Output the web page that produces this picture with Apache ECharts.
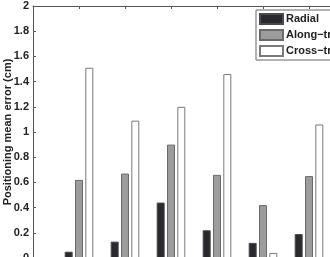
<!DOCTYPE html>
<html>
<head>
<meta charset="utf-8">
<script src="https://cdn.jsdelivr.net/npm/echarts@6/dist/echarts.min.js"></script>
<style>
html,body{margin:0;padding:0;background:#fff;}
#c{width:330px;height:257px;}
</style>
</head>
<body>
<div id="c"></div>
<script>
const categories = ['0', '1', '2', '3', '4', '5', '6', '7'];
const seriesNames = ['Radial', 'Along\u2212track', 'Cross\u2212track'];
const radial = [null, 0.05, 0.13, 0.44, 0.22, 0.12, 0.19, null];
const alongTrack = [null, 0.62, 0.67, 0.90, 0.66, 0.42, 0.65, null];
const crossTrack = [null, 1.51, 1.09, 1.20, 1.46, 0.04, 1.06, null];
const yTicks = [0, 0.2, 0.4, 0.6, 0.8, 1, 1.2, 1.4, 1.6, 1.8, 2];

const font = 'Liberation Sans, Arial, Helvetica, sans-serif';
const chart = echarts.init(document.getElementById('c'), null, {renderer: 'canvas'});
const styles = [
  {color: '#2a2a2e', borderColor: '#4a4a4a'},
  {color: '#9c9c9c', borderColor: '#6a6a6a'},
  {color: '#ffffff', borderColor: '#7a7a7a'}
];
const dataSets = [radial, alongTrack, crossTrack];

chart.setOption({
  animation: false,
  backgroundColor: '#fff',
  textStyle: {fontFamily: font},
  grid: {left: 33, top: 6, width: 322, height: 252, containLabel: false, outerBoundsMode: 'none'},
  legend: {
    orient: 'vertical', left: 256, top: 10,
    data: seriesNames,
    backgroundColor: '#fff', borderColor: '#666', borderWidth: 1,
    padding: [3, 30, 3, 3],
    itemWidth: 23, itemHeight: 10, itemGap: 4,
    icon: 'rect',
    textStyle: {fontFamily: font, fontSize: 11, fontWeight: 'bold', color: '#222', padding: [0, 0, 0, -2]}
  },
  xAxis: [
    {type: 'category', data: categories, position: 'bottom', boundaryGap: false,
     axisLine: {show: true, onZero: false, lineStyle: {color: '#555', width: 1}},
     axisTick: {show: true, inside: true, length: 3, lineStyle: {color: '#555'}},
     axisLabel: {show: false}, splitLine: {show: false}},
    {type: 'category', data: categories, position: 'top', boundaryGap: false,
     axisLine: {show: true, onZero: false, lineStyle: {color: '#555', width: 1}},
     axisTick: {show: true, inside: true, length: 3, lineStyle: {color: '#555'}},
     axisLabel: {show: false}, splitLine: {show: false}}
  ],
  yAxis: [
    {type: 'value', position: 'left', min: 0, max: 2, interval: 0.2,
     name: 'Positioning mean error (cm)', nameLocation: 'middle', nameGap: 20,
     nameMoveOverlap: false,
     nameTextStyle: {fontFamily: font, fontSize: 11, fontWeight: 'bold', color: '#222'},
     axisLine: {show: true, lineStyle: {color: '#555', width: 1}},
     axisTick: {show: true, inside: true, length: 3, lineStyle: {color: '#555'}},
     axisLabel: {fontFamily: font, fontSize: 11, fontWeight: 'bold', color: '#222', margin: 4,
                 formatter: v => String(yTicks.find(t => Math.abs(t - v) < 1e-6) ?? v)},
     splitLine: {show: false}},
    {type: 'value', position: 'right', min: 0, max: 2, interval: 0.2,
     axisLine: {show: true, lineStyle: {color: '#555', width: 1}},
     axisTick: {show: true, inside: true, length: 3},
     axisLabel: {show: false}, splitLine: {show: false}}
  ],
  series: seriesNames.map((name, k) => ({
    name: name, type: 'bar', xAxisIndex: 0, yAxisIndex: 0,
    data: dataSets[k],
    barWidth: 8, barGap: '29%',
    itemStyle: {color: styles[k].color, borderColor: styles[k].borderColor, borderWidth: 1}
  }))
});
</script>
</body>
</html>
